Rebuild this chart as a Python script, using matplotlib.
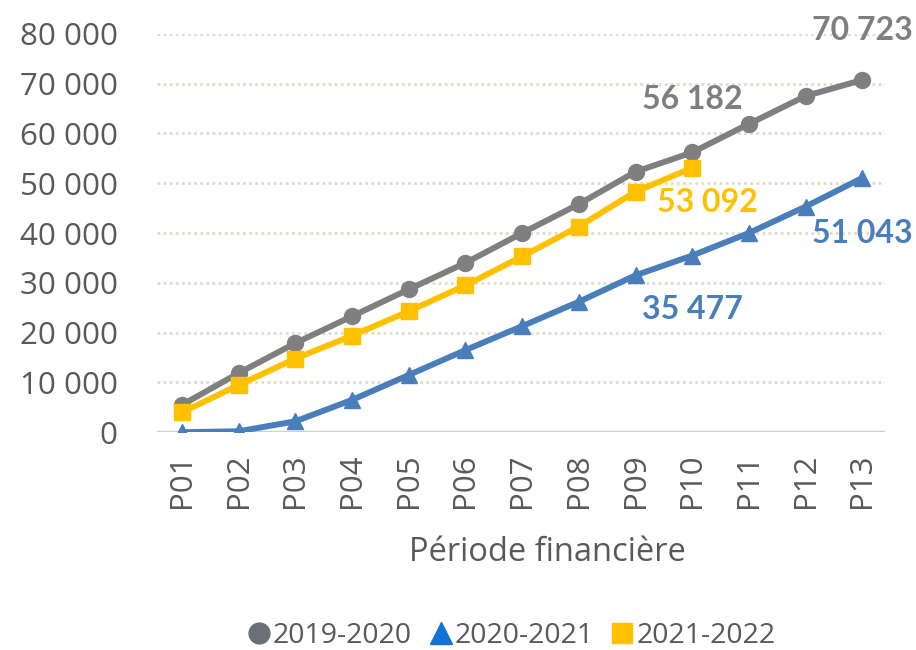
import matplotlib
matplotlib.use("Agg")
import matplotlib.pyplot as plt
from matplotlib.lines import Line2D

periods = ["P01", "P02", "P03", "P04", "P05", "P06", "P07", "P08", "P09", "P10", "P11", "P12", "P13"]
s2019 = [5500, 11900, 17900, 23300, 28700, 34000, 40000, 45800, 52300, 56182, 61900, 67500, 70723]
s2020 = [0, 200, 2200, 6500, 11500, 16500, 21300, 26200, 31500, 35477, 40000, 45300, 51043]
s2021 = [4000, 9500, 14800, 19400, 24300, 29500, 35300, 41300, 48300, 53092]
series_names = ["2019-2020", "2020-2021", "2021-2022"]
yticks = [0, 10000, 20000, 30000, 40000, 50000, 60000, 70000, 80000]

c_gray, c_blue, c_yel = "#7f7f7f", "#4a7ebb", "#ffc000"
plt.rcParams['font.family'] = ['Open Sans', 'DejaVu Sans']

fig = plt.figure(figsize=(9.16, 6.5), dpi=100)
ax = fig.add_axes([0.171, 0.335, 0.795, 0.613])

x = list(range(len(periods)))
ax.plot(x, s2019, color=c_gray, lw=4.3, marker='o', ms=11.5, zorder=3)
ax.plot(x, s2020, color=c_blue, lw=4.3, marker='^', ms=12, zorder=3)
ax.plot(x[:len(s2021)], s2021, color=c_yel, lw=4.3, marker='s', ms=11.5, zorder=4)

ax.set_xlim(-0.45, 12.4)
ax.set_ylim(0, 80000)
ax.set_yticks(yticks)
ax.set_yticklabels([f"{v:,}".replace(",", " ") for v in yticks])
ax.set_xticks(x)
ax.set_xticklabels(periods, rotation=90)
ax.tick_params(axis='both', length=0, labelsize=22.5, labelcolor="#595959")
ax.tick_params(axis='y', pad=28)
ax.tick_params(axis='x', pad=15)
for sp in ax.spines.values():
    sp.set_visible(False)
ax.grid(axis='y', color="#dedccb", lw=2, ls=(0, (1, 1.2)), zorder=0)
ax.axhline(0, color="#d0d0d0", lw=2.5, zorder=1)
ax.set_axisbelow(True)
ax.set_xlabel("Période financière", fontsize=23.5, color="#595959", va='center')
ax.xaxis.set_label_coords(0.536, -0.302)

kw = dict(fontsize=23, fontweight='bold', family=['Liberation Sans Narrow', 'Lato', 'DejaVu Sans'])
ax.annotate("70 723", (12, s2019[12]), xytext=(0, 36), textcoords='offset points', ha='center', va='center', color=c_gray, **kw)
ax.annotate("56 182", (9, s2019[9]), xytext=(0, 38), textcoords='offset points', ha='center', va='center', color=c_gray, **kw)
ax.annotate("53 092", (9, s2021[9]), xytext=(11, -25), textcoords='offset points', ha='center', va='center', color=c_yel, **kw)
ax.annotate("51 043", (12, s2020[12]), xytext=(0, -40), textcoords='offset points', ha='center', va='center', color=c_blue, **kw)
ax.annotate("35 477", (9, s2020[9]), xytext=(0, -39), textcoords='offset points', ha='center', va='center', color=c_blue, **kw)

handles = [
    Line2D([], [], color="#6b7078", marker='o', ls='none', ms=15),
    Line2D([], [], color="#1473d2", marker='^', ls='none', ms=16),
    Line2D([], [], color=c_yel, marker='s', ls='none', ms=15),
]
fig.legend(handles, series_names, loc='center', bbox_to_anchor=(0.557, 0.022), ncol=3,
           frameon=False, fontsize=20.5, labelcolor="#595959", handletextpad=0.0,
           columnspacing=0.5, handlelength=1.0)

fig.savefig("out.png", dpi=100)
